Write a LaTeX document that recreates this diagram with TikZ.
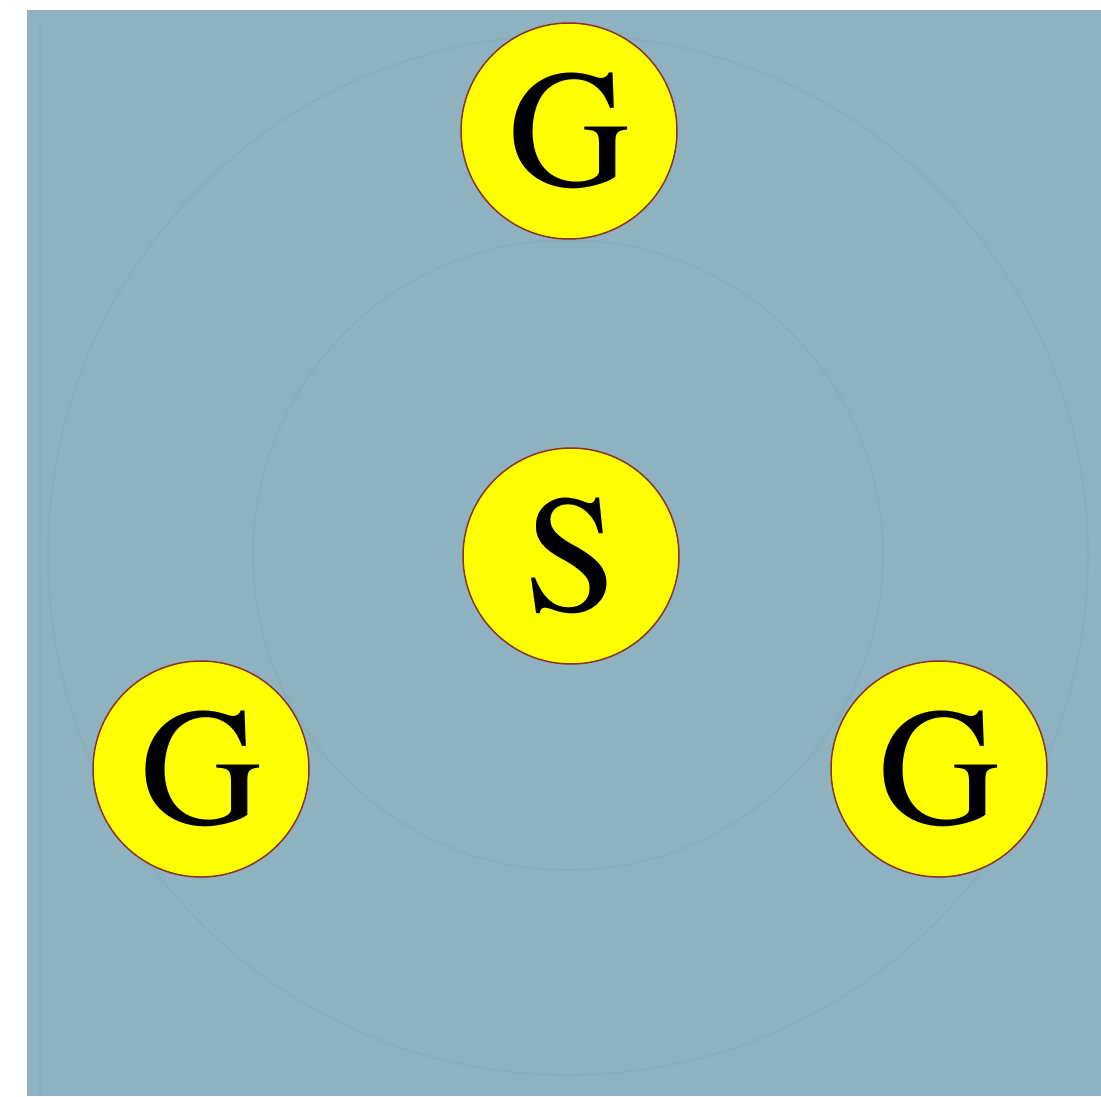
\documentclass[tikz,border=0pt]{standalone}
\usepackage{fontspec}
\setmainfont{texgyretermes-regular.otf}
\definecolor{bgpanel}{RGB}{143,178,192}
\definecolor{ringcol}{RGB}{130,166,182}
\definecolor{nodeedge}{RGB}{140,50,40}
\definecolor{nodefill}{RGB}{255,255,0}
\tikzset{
  gnode/.style={circle, fill=nodefill, draw=nodeedge, line width=1.5pt,
    minimum size=216pt, inner sep=0pt,
    font=\fontsize{168pt}{168pt}\selectfont, text=black},
  ring/.style={draw=ringcol, line width=2pt, opacity=0.35}
}
\begin{document}
\begin{tikzpicture}[x=1pt,y=-1pt]
\useasboundingbox (0,0) rectangle (1101,1096);
\fill[white] (0,0) rectangle (1101,1096);
\fill[bgpanel] (27,10) rectangle (1101,1096);
\draw[ringcol, line width=3pt, opacity=0.3] (40,22) -- (40,1096);
\coordinate (c) at (568,555);
\draw[ring] (c) circle (315);
\draw[ring] (c) circle (520);
\node[gnode] (gtop) at (569,131) {G};
\node[gnode] (s) at (571,556) {S};
\node[gnode] (gleft) at (201,769) {G};
\node[gnode] (gright) at (939,769) {G};
\end{tikzpicture}
\end{document}
